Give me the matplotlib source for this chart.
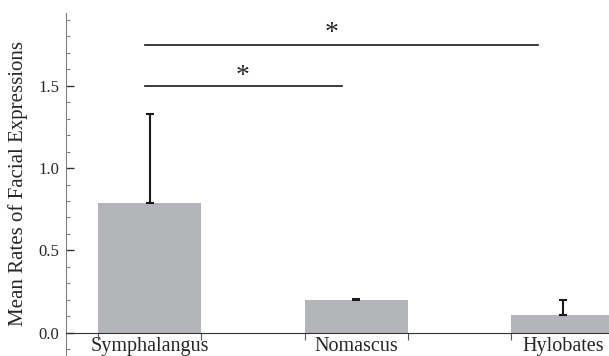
import numpy as np
import matplotlib.pyplot as plt
from matplotlib.ticker import FixedLocator

# mean facial expression rates per genus
genera = ['Symphalangus', 'Nomascus', 'Hylobates']
rates = [0.79, 0.20, 0.11]
err_up = [0.54, 0.006, 0.09]

# significance brackets: (x start, x end, y)
sig_lines = [(-0.024, 0.932, 1.50), (-0.024, 1.88, 1.75)]
sig_stars = [(0.449, 1.555), (0.88, 1.815)]

plt.rcParams['font.family'] = ['Liberation Serif', 'DejaVu Serif']
text_col = '#262626'

fig = plt.figure(figsize=(6.09, 3.56), dpi=100)
ax = fig.add_axes([0.109, 0.0, 0.891, 1.0])

x = np.arange(len(genera))
ax.bar(x, rates, width=0.5, color='#b4b5b9', zorder=2)
ax.errorbar(x, rates, yerr=[np.zeros(len(x)), err_up], fmt='none',
            ecolor='#1a1a1a', elinewidth=1.5, capsize=3, capthick=1.5, zorder=3)

for x0, x1, y in sig_lines:
    ax.plot([x0, x1], [y, y], color='#1a1a1a', lw=1.2)
for sx, sy in sig_stars:
    ax.text(sx, sy, '*', fontsize=20, ha='center', va='center', color=text_col)

ax.set_xlim(-0.404, 2.223)
ax.set_ylim(-0.1416, 2.021)

for s in ['top', 'right']:
    ax.spines[s].set_visible(False)
ax.spines['bottom'].set_position(('data', 0))
ax.spines['bottom'].set_color('#333333')
ax.spines['left'].set_color('#808080')
ax.spines['left'].set_bounds(-0.135, 1.94)

ax.set_yticks([0.0, 0.5, 1.0, 1.5])
ax.set_yticklabels(['0.0', '0.5', '1.0', '1.5'])
ax.yaxis.set_minor_locator(FixedLocator(np.arange(-0.1, 1.95, 0.1)))
ax.tick_params(axis='y', which='major', direction='in', length=6, width=1,
               color='#333333', labelsize=12, labelcolor=text_col, pad=5)
ax.tick_params(axis='y', which='minor', direction='in', length=3, width=0.8,
               color='#808080')

ax.set_xticks(x)
ax.set_xticklabels(genera)
edges = np.concatenate([x - 0.25, x + 0.25])
ax.xaxis.set_minor_locator(FixedLocator(edges))
ax.tick_params(axis='x', which='major', length=0, labelsize=14.5,
               labelcolor=text_col, pad=3)
ax.tick_params(axis='x', which='minor', direction='out', length=5, width=0.8,
               color='#555555')

ax.set_ylabel('Mean Rates of Facial Expressions', fontsize=15, color=text_col)
ax.yaxis.set_label_coords(-0.07, 0.485)

fig.savefig('out.png', dpi=100)
